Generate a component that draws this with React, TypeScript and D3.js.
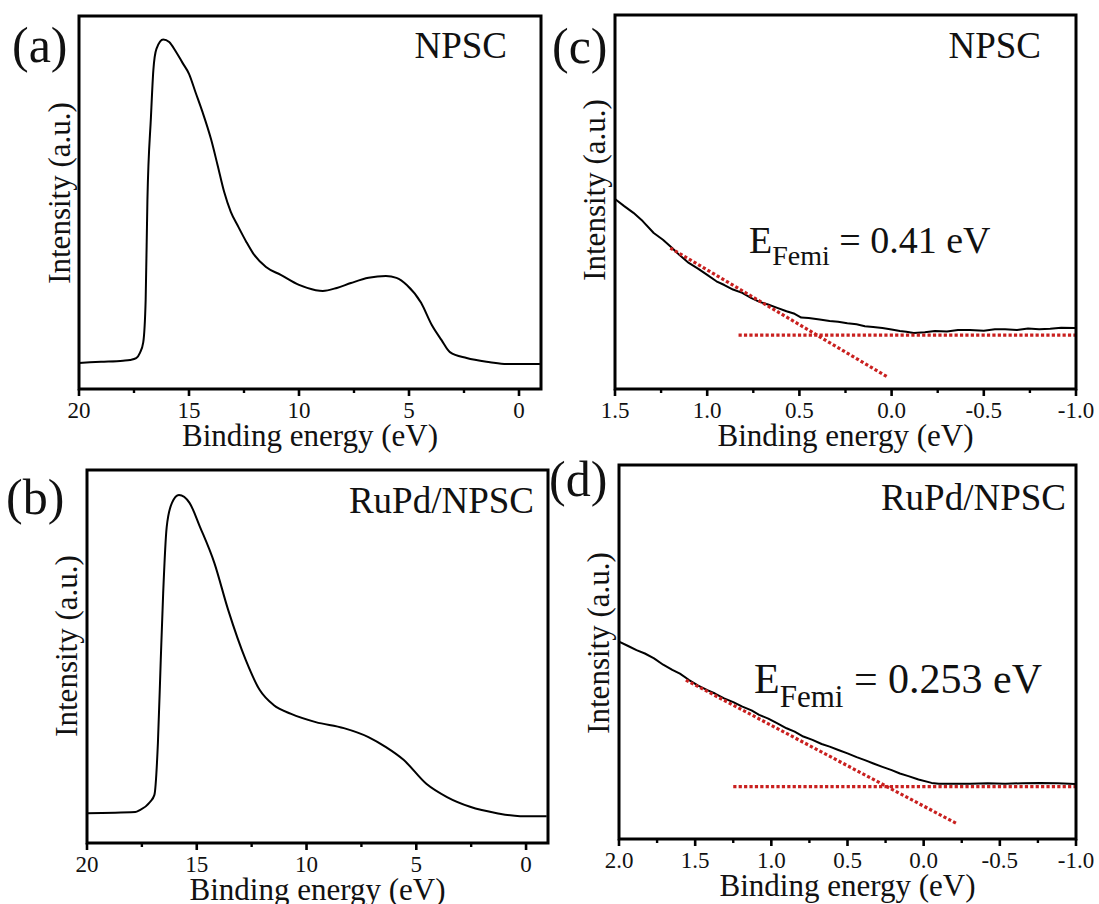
import React from 'react';
import * as d3 from 'd3';

const FONT = '"Liberation Serif", "Times New Roman", Times, serif';

// ---------- Panel (a): NPSC, wide scan ----------
const energyA = [20, 19.0, 18.0, 17.68, 17.4, 17.23, 17.08, 16.97, 16.89, 16.73, 16.62, 16.48, 16.17, 15.9, 15.6, 15.3, 15.0, 14.7, 14.4, 14.0, 13.7, 13.4, 13.1, 12.75, 12.4, 12.1, 11.5, 10.83, 10.0, 9.24, 8.92, 8.28, 7.64, 6.84, 6.05, 5.57, 5.1, 4.45, 3.97, 3.52, 3.14, 2.38, 1.32, 0.56, -0.95];
const intensityA = [7.0, 7.3, 7.6, 7.8, 8.3, 9.7, 12.5, 23.9, 50.7, 72.9, 85.5, 91.2, 93.7, 93.0, 90.5, 87.5, 84.5, 79.5, 74.5, 67.0, 60.0, 52.8, 47.5, 43.4, 39.5, 36.5, 32.7, 30.6, 27.9, 26.5, 26.3, 27.1, 28.4, 29.8, 30.3, 29.8, 27.9, 23.1, 17.2, 13.1, 9.9, 8.3, 7.2, 6.7, 6.7];

// ---------- Panel (b): RuPd/NPSC, wide scan ----------
const energyB = [20, 17.8, 17.6, 17.13, 16.93, 16.77, 16.64, 16.53, 16.37, 16.13, 15.81, 15.33, 14.85, 14.2, 13.57, 12.77, 12.13, 11.5, 10.7, 9.58, 8.3, 7.18, 6.38, 5.58, 4.53, 3.6, 2.55, 1.33, 0.27, -0.94];
const intensityB = [8.0, 8.3, 8.8, 11.0, 12.9, 26.8, 49.1, 67.0, 84.7, 91.2, 93.3, 91.2, 84.7, 75.1, 62.5, 49.1, 41.0, 37.0, 34.6, 32.4, 30.8, 28.4, 25.7, 22.3, 15.8, 12.3, 9.7, 8.0, 7.2, 7.2];

// ---------- Panel (c): NPSC, Fermi edge ----------
const energyC = [1.5, 1.45, 1.40, 1.35, 1.29, 1.24, 1.19, 1.15, 1.10, 1.05, 1.0, 0.95, 0.907, 0.86, 0.81, 0.76, 0.716, 0.67, 0.62, 0.57, 0.526, 0.49, 0.45, 0.39, 0.336, 0.29, 0.24, 0.19, 0.145, 0.10, 0.05, 0.0, -0.045, -0.08, -0.12, -0.18, -0.235, -0.3, -0.36, -0.425, -0.5, -0.56, -0.615, -0.68, -0.74, -0.8, -0.86, -0.92, -0.995];
const intensityC = [50.8, 48.9, 47.1, 44.9, 41.7, 39.9, 37.7, 35.8, 33.7, 32.2, 30.5, 28.8, 27.8, 26.6, 25.7, 24.3, 23.3, 22.6, 21.7, 20.8, 20.1, 19.1, 19.0, 18.6, 18.2, 18.0, 17.6, 17.3, 16.8, 16.6, 16.3, 15.9, 15.5, 15.3, 15.0, 15.2, 15.5, 15.4, 15.8, 15.8, 15.6, 16.0, 16.0, 15.8, 16.2, 16.0, 16.1, 16.4, 16.3];
const tangentC_E = [1.20, 0.022];
const tangentC_I = [37.7, 3.2];
const baselineC_E = [0.83, -1.0];
const baselineC_I = [14.4, 14.4];

// ---------- Panel (d): RuPd/NPSC, Fermi edge ----------
const energyD = [2.0, 1.94, 1.885, 1.83, 1.77, 1.71, 1.65, 1.6, 1.54, 1.48, 1.42, 1.37, 1.31, 1.25, 1.19, 1.13, 1.08, 1.02, 0.96, 0.9, 0.847, 0.79, 0.73, 0.67, 0.617, 0.56, 0.5, 0.44, 0.386, 0.33, 0.271, 0.21, 0.156, 0.1, 0.034, -0.052, -0.1, -0.2, -0.305, -0.42, -0.535, -0.65, -0.764, -0.88, -0.995];
const intensityD = [52.8, 51.6, 50.5, 49.6, 48.3, 46.6, 45.2, 44.2, 42.5, 41.0, 39.8, 38.9, 37.6, 36.6, 35.4, 34.4, 33.2, 32.2, 30.9, 29.6, 28.7, 27.4, 26.5, 25.4, 24.7, 23.8, 22.9, 21.9, 21.1, 20.2, 19.3, 18.4, 17.5, 16.8, 15.9, 15.0, 14.8, 14.8, 14.8, 14.9, 14.8, 14.9, 15.0, 14.9, 14.7];
const tangentD_E = [1.561, -0.213];
const tangentD_I = [42.5, 4.2];
const baselineD_E = [1.25, -1.0];
const baselineD_I = [14.0, 14.0];

// ---------- Tick labels ----------
const ticksWide = [20, 15, 10, 5, 0];
const minorWide = [17.5, 12.5, 7.5, 2.5];
const ticksC = [1.5, 1.0, 0.5, 0.0, -0.5, -1.0];
const minorC = [1.25, 0.75, 0.25, -0.25, -0.75];
const ticksD = [2.0, 1.5, 1.0, 0.5, 0.0, -0.5, -1.0];
const minorD = [1.75, 1.25, 0.75, 0.25, -0.25, -0.75];

const fmtInt = (v: number) => String(v);
const fmt1 = (v: number) => (v < 0 ? '-' + Math.abs(v).toFixed(1) : v.toFixed(1));

type Fit = { tE: number[]; tI: number[]; bE: number[]; bI: number[] };
type Ann = { x: number; y: number; size: number; subSize: number; subDy: number; value: string };

type PanelProps = {
  left: number; right: number; top: number; bottom: number;
  domain: [number, number];
  energy: number[]; intensity: number[];
  ticks: number[]; minor: number[]; fmt: (v: number) => string;
  smooth: boolean;
  tag: string; tagX: number; tagY: number;
  name: string; nameX: number; nameY: number;
  yTitleX: number; yTitleY: number;
  fit?: Fit; ann?: Ann;
};

function Panel(p: PanelProps) {
  const x = d3.scaleLinear().domain(p.domain).range([p.left, p.right]);
  const y = d3.scaleLinear().domain([0, 100]).range([p.bottom, p.top]);
  const line = d3
    .line<number>()
    .x((_, i) => x(p.energy[i]))
    .y((d) => y(d))
    .curve(p.smooth ? d3.curveMonotoneX : d3.curveLinear);
  const seg = (E: number[], I: number[]) =>
    d3.line<number>().x((d) => x(d)).y((_, i) => y(I[i]))(E) || '';
  const red = '#c9201f';
  return (
    <g>
      <path d={line(p.intensity) || ''} fill="none" stroke="#000" strokeWidth={2} strokeLinejoin="round" />
      {p.fit && (
        <g>
          <path d={seg(p.fit.tE, p.fit.tI)} fill="none" stroke={red} strokeWidth={3.2} strokeDasharray="3.2,2.2" />
          <path d={seg(p.fit.bE, p.fit.bI)} fill="none" stroke={red} strokeWidth={3.2} strokeDasharray="3.2,2.2" />
        </g>
      )}
      <rect x={p.left} y={p.top} width={p.right - p.left} height={p.bottom - p.top} fill="none" stroke="#000" strokeWidth={3} />
      {p.ticks.map((t) => (
        <g key={'M' + t}>
          <line x1={x(t)} x2={x(t)} y1={p.bottom} y2={p.bottom + 7} stroke="#000" strokeWidth={2.6} />
          <text x={x(t)} y={p.bottom + 29} fontSize={23} textAnchor="middle" fontFamily={FONT} fill="#111">
            {p.fmt(t)}
          </text>
        </g>
      ))}
      {p.minor.map((t) => (
        <line key={'m' + t} x1={x(t)} x2={x(t)} y1={p.bottom} y2={p.bottom + 4} stroke="#000" strokeWidth={2.4} />
      ))}
      <text x={(p.left + p.right) / 2} y={p.bottom + 57} fontSize={31} textAnchor="middle" fontFamily={FONT} fill="#111">
        Binding energy (eV)
      </text>
      <text
        transform={`translate(${p.yTitleX},${p.yTitleY}) rotate(-90)`}
        fontSize={31}
        textAnchor="middle"
        fontFamily={FONT}
        fill="#111"
      >
        Intensity (a.u.)
      </text>
      <text x={p.tagX} y={p.tagY} fontSize={50} fontFamily={FONT} fill="#111">
        {p.tag}
      </text>
      <text x={p.nameX} y={p.nameY} fontSize={37} textAnchor="end" fontFamily={FONT} fill="#111">
        {p.name}
      </text>
      {p.ann && (
        <text x={p.ann.x} y={p.ann.y} fontSize={p.ann.size} fontFamily={FONT} fill="#111">
          E
          <tspan fontSize={p.ann.subSize} dy={p.ann.subDy}>Femi</tspan>
          <tspan dy={-p.ann.subDy}>{' = ' + p.ann.value + ' eV'}</tspan>
        </text>
      )}
    </g>
  );
}

export default function App() {
  return (
    <svg
      width={1099}
      height={904}
      viewBox="0 0 1099 904"
      style={{ position: 'absolute', left: 0, top: 0, background: '#fff', display: 'block' }}
    >
      <rect x={0} y={0} width={1099} height={904} fill="#fff" />
      <Panel
        left={79} right={541} top={16} bottom={389} domain={[20, -1]}
        energy={energyA} intensity={intensityA}
        ticks={ticksWide} minor={minorWide} fmt={fmtInt} smooth
        tag="(a)" tagX={12} tagY={62}
        name="NPSC" nameX={507} nameY={58}
        yTitleX={70} yTitleY={193}
      />
      <Panel
        left={87} right={548} top={470} bottom={843} domain={[20, -1]}
        energy={energyB} intensity={intensityB}
        ticks={ticksWide} minor={minorWide} fmt={fmtInt} smooth
        tag="(b)" tagX={6} tagY={514}
        name="RuPd/NPSC" nameX={534} nameY={513}
        yTitleX={77} yTitleY={646}
      />
      <Panel
        left={615} right={1076} top={15} bottom={389} domain={[1.5, -1.0]}
        energy={energyC} intensity={intensityC}
        ticks={ticksC} minor={minorC} fmt={fmt1} smooth={false}
        tag="(c)" tagX={552} tagY={63}
        name="NPSC" nameX={1041} nameY={58}
        yTitleX={605} yTitleY={190}
        fit={{ tE: tangentC_E, tI: tangentC_I, bE: baselineC_E, bI: baselineC_I }}
        ann={{ x: 749, y: 253, size: 38, subSize: 28, subDy: 12, value: '0.41' }}
      />
      <Panel
        left={619} right={1076} top={465} bottom={839} domain={[2.0, -1.0]}
        energy={energyD} intensity={intensityD}
        ticks={ticksD} minor={minorD} fmt={fmt1} smooth={false}
        tag="(d)" tagX={549} tagY={496}
        name="RuPd/NPSC" nameX={1066} nameY={510}
        yTitleX={609} yTitleY={643}
        fit={{ tE: tangentD_E, tI: tangentD_I, bE: baselineD_E, bI: baselineD_I }}
        ann={{ x: 754, y: 693, size: 42, subSize: 31, subDy: 14, value: '0.253' }}
      />
    </svg>
  );
}
